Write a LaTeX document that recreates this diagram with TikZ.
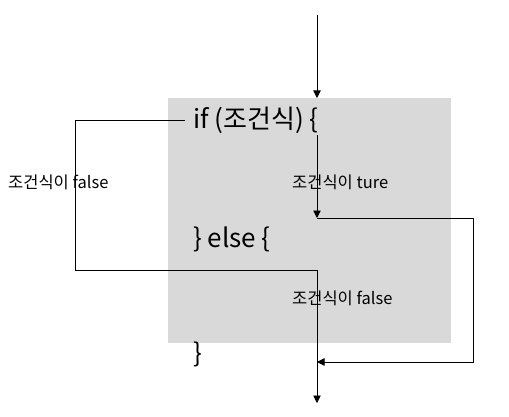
\documentclass[tikz,border=0pt]{standalone}
\usepackage{fontspec}
\setmainfont{Noto Sans CJK KR}
\usetikzlibrary{arrows.meta,positioning,calc}
\begin{document}
\begin{tikzpicture}[x=1pt, y=-1pt,
  >={Triangle[length=7.5pt,width=7.5pt]},
  flow/.style={line width=0.8pt},
  code/.style={font=\fontsize{26}{30}\selectfont, inner xsep=8pt, inner ysep=0pt, anchor=west},
  cond/.style={font=\fontsize{16.5}{19}\selectfont, inner sep=0pt, anchor=west}]
\useasboundingbox (0,0) rectangle (509,417);
\node[fill=black!15, minimum width=283pt, minimum height=245pt, inner sep=0pt, anchor=north west] (block) at (168,98) {};
\node[code] (if) at (185,120) {if (조건식) \{};
\node[code] (else) at (185,239) {\} else \{};
\node[code] (end) at (185,354) {\}};
\node[cond] (falseA) at (8,182) {조건식이 false};
\node[cond] (trueB) at (292,182) {조건식이 ture};
\node[cond] (falseB) at (292,298) {조건식이 false};
\coordinate (top) at (317,15);
\coordinate (split) at (317,135);
\coordinate (merge) at (317,218);
\coordinate (right) at (473,218);
\coordinate (join) at (317,362);
\coordinate (corner) at (75,270);
\coordinate (jump) at (317,270);
\coordinate (exit) at (317,403);
\draw[flow,->] (top) -- (top |- block.north);
\draw[flow,->] (split) -- (merge);
\draw[flow,->] (merge) -- (right) |- (join);
\draw[flow,->] (if.west) -| (corner) -- (jump) -- (exit);
\end{tikzpicture}
\end{document}
